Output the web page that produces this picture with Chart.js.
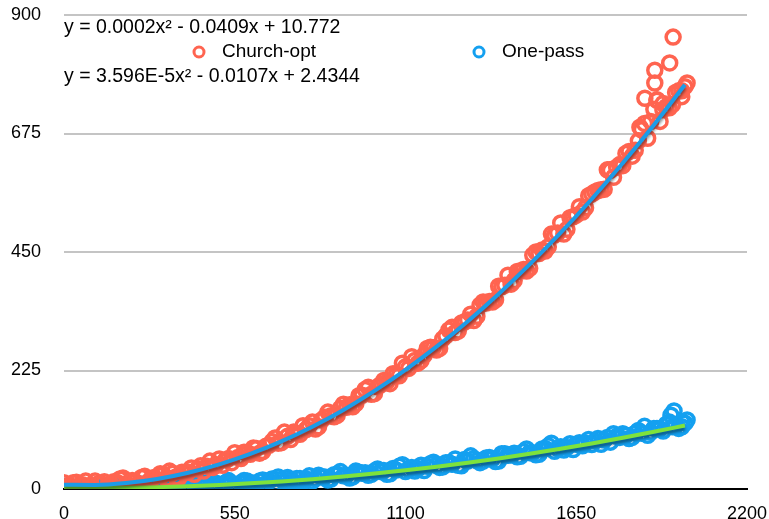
<!DOCTYPE html>
<html>
<head>
<meta charset="utf-8">
<script src="https://cdn.jsdelivr.net/npm/chart.js@4.4.1/dist/chart.umd.min.js"></script>
<style>
  html, body { margin: 0; padding: 0; background: #ffffff; }
  #wrap { width: 769px; height: 519px; position: relative; }
</style>
</head>
<body>
<div id="wrap"><canvas id="c" width="769" height="519"></canvas></div>
<script>
// ---- data ----
const sampleSizes = [0,10,20,30,40,50,60,70,80,90,100,110,120,130,140,150,160,170,180,190,200,210,220,230,240,250,260,270,280,290,300,310,320,330,340,350,360,370,380,390,400,410,420,430,440,450,460,470,480,490,500,510,520,530,540,550,560,570,580,590,600,610,620,630,640,650,660,670,680,690,700,710,720,730,740,750,760,770,780,790,800,810,820,830,840,850,860,870,880,890,900,910,920,930,940,950,960,970,980,990,1000,1010,1020,1030,1040,1050,1060,1070,1080,1090,1100,1110,1120,1130,1140,1150,1160,1170,1180,1190,1200,1210,1220,1230,1240,1250,1260,1270,1280,1290,1300,1310,1320,1330,1340,1350,1360,1370,1380,1390,1400,1410,1420,1430,1440,1450,1460,1470,1480,1490,1500,1510,1520,1530,1540,1550,1560,1570,1580,1590,1600,1610,1620,1630,1640,1650,1660,1670,1680,1690,1700,1710,1720,1730,1740,1750,1760,1770,1780,1790,1800,1810,1820,1830,1840,1850,1860,1870,1880,1890,1900,1910,1920,1930,1940,1950,1960,1970,1980,1990,2000];

const churchOpt = [12,5,6,12,13,7,8,15,4,4,15,10,10,14,5,7,14,13,19,21,10,7,16,14,9,22,24,13,19,22,17,29,27,21,34,30,23,21,32,32,32,40,28,38,44,34,43,53,41,46,57,45,55,58,50,69,60,58,70,68,66,78,77,68,71,81,83,90,97,87,88,108,100,94,108,106,104,120,113,120,127,114,118,131,136,146,139,137,140,153,161,155,160,156,162,177,178,189,193,180,181,194,198,206,203,200,219,217,215,239,232,229,251,244,239,244,254,267,269,268,264,267,285,291,302,307,297,300,315,317,321,332,320,328,349,355,353,356,355,359,385,384,387,406,389,396,413,414,417,414,419,444,450,447,454,452,460,484,482,486,505,484,493,515,517,520,536,526,534,557,560,564,567,568,569,606,605,592,611,616,614,637,641,632,643,661,682,694,666,698,721,739,698,732,726,724,730,753,756,756,764];

const onePass = [5,4,1,1,4,5,0,2,3,6,6,0,1,3,4,7,2,1,5,4,0,5,3.5,1,7,9,2,3,5,5,8.5,8,2,1,7,5,5.5,10,2,7,9,4,8,13,4,9,12,5,8,11,5,9,12,16,11,6,6,12,16,15,12,11,9,15,17,10,15,19,11,23,18,14,22,18,14,20,20,14,19,25,15,20,26,23,23,17,19,27,28,33,25,26,21,23,34,32,30,31,26,28,34,38,33,35,28,29,39,36,43,46,33,37,41,34,39,45,35,43,48,51,45,41,42,50,50,47,57,45,44,56,53,63,58,54,50,53,59,60,57.5,52,53,67,67,64,65,68,61,62,71,76,69,69,65,66,76,77,82,87,71.5,77,80,74,79,86,75,85,88,82,87,94,84.5,91,96,85,93,98,89,105,100,98,105,102,96,98,106,111,106,119,102,108,115,115,114,110,123,127,118,120,115,118,125];

// extra scattered points near the top end
const churchOptExtraX = [1758,1855,1871,1903,1903,1910,1929,1951,1962,1990,2007];
const churchOptExtraY = [606,687,742,795,771,738,720,809,858,745,771];
const onePassExtraX = [1955,1965,1990,2007];
const onePassExtraY = [140,148,128,131];

// fitted trend lines
const trendX = [0,100,200,300,400,500,600,700,800,900,1000,1100,1200,1300,1400,1500,1600,1700,1800,1900,2000];
const churchTrend = [8,7.7,11.4,19.1,30.9,46.7,66.6,90.4,118.3,150.2,186.2,226.2,270.2,318.2,370.3,426.4,486.6,550.7,618.9,691.2,767.4];
const onePassTrend = [2,1.85,2.3,3.5,5.2,7.65,10.7,14.4,18.7,23.7,29.3,35.6,42.4,50,58.1,67,76.4,86.5,97.2,108.6,120.6];

const xTicks = [0,550,1100,1650,2200];
const yTicks = [0,225,450,675,900];

const seriesNames = ['Church-opt','One-pass'];
const equations = ['y = 0.0002x\u00B2 - 0.0409x + 10.772','y = 3.596E-5x\u00B2 - 0.0107x + 2.4344'];

// ---- styles ----
const RED = '#FF6450';
const BLUE = '#14A0F0';
const TREND_BLUE = '#1C9CE8';
const TREND_GREEN = '#7EE23C';
const FONT = '"Liberation Sans", Arial, Helvetica, sans-serif';

const pts = (xs, ys) => xs.map((x, i) => ({x: x, y: ys[i]}));

const churchPts = pts(sampleSizes, churchOpt).concat(pts(churchOptExtraX, churchOptExtraY));
const onePassPts = pts(sampleSizes, onePass).concat(pts(onePassExtraX, onePassExtraY));

const trendShadow = {
  id: 'trendShadow',
  beforeDatasetDraw(chart, args) {
    if (args.meta.type === 'line') {
      const ctx = chart.ctx;
      ctx.save();
      ctx.shadowColor = 'rgba(0,0,0,0.45)';
      ctx.shadowOffsetY = 3;
      ctx.shadowBlur = 3;
    }
  },
  afterDatasetDraw(chart, args) {
    if (args.meta.type === 'line') chart.ctx.restore();
  }
};

const overlay = {
  id: 'overlay',
  afterDraw(chart) {
    const ctx = chart.ctx;
    const area = chart.chartArea;
    ctx.save();
    ctx.fillStyle = '#000';
    ctx.font = '19.5px ' + FONT;
    ctx.textBaseline = 'middle';
    ctx.textAlign = 'left';
    ctx.fillText(equations[0], area.left, 28);
    ctx.fillText(equations[1], area.left, 77);
    // legend
    ctx.font = '19px ' + FONT;
    const items = [{c: RED, x: 199, t: seriesNames[0]}, {c: BLUE, x: 479, t: seriesNames[1]}];
    items.forEach(it => {
      ctx.beginPath();
      ctx.arc(it.x, 52, 5, 0, Math.PI * 2);
      ctx.lineWidth = 3;
      ctx.strokeStyle = it.c;
      ctx.fillStyle = '#fff';
      ctx.fill();
      ctx.stroke();
      ctx.fillStyle = '#000';
      ctx.fillText(it.t, it.x + 23, 52);
    });
    ctx.restore();
  }
};

new Chart(document.getElementById('c'), {
  type: 'scatter',
  data: {
    datasets: [
      {
        label: seriesNames[0] + ' trend', data: pts(trendX, churchTrend), type: 'line',
        borderColor: TREND_BLUE, borderWidth: 4, pointRadius: 0, fill: false,
        cubicInterpolationMode: 'monotone', order: 0
      },
      {
        label: seriesNames[1] + ' trend', data: pts(trendX, onePassTrend), type: 'line',
        borderColor: TREND_GREEN, borderWidth: 4, pointRadius: 0, fill: false,
        cubicInterpolationMode: 'monotone', order: 0
      },
      {
        label: seriesNames[0], data: churchPts, pointRadius: 7, borderWidth: 3.5,
        borderColor: RED, backgroundColor: 'rgba(255,255,255,0)', order: 1
      },
      {
        label: seriesNames[1], data: onePassPts, pointRadius: 7, borderWidth: 3.5,
        borderColor: BLUE, backgroundColor: 'rgba(255,255,255,0)', order: 2
      }
    ]
  },
  options: {
    responsive: false,
    animation: false,
    layout: { padding: { top: 15, right: 22, left: 0, bottom: 0 } },
    plugins: { legend: { display: false }, tooltip: { enabled: false } },
    scales: {
      x: {
        type: 'linear', min: 0, max: 2200,
        afterBuildTicks: s => { s.ticks = xTicks.map(v => ({value: v})); },
        afterFit: s => { s.height = 30; },
        grid: { display: false, drawTicks: true, tickLength: 14, tickColor: 'rgba(0,0,0,0)' },
        border: { display: true, color: '#000', width: 2 },
        ticks: { color: '#000', font: { size: 18, family: FONT }, padding: 0, maxRotation: 0,
                 callback: v => String(v) }
      },
      y: {
        type: 'linear', min: 0, max: 900,
        afterBuildTicks: s => { s.ticks = yTicks.map(v => ({value: v})); },
        afterFit: s => { s.width = 64; },
        grid: {
          drawTicks: true, tickLength: 23, tickColor: 'rgba(0,0,0,0)', lineWidth: 2,
          color: c => (c.tick && c.tick.value === 0) ? 'rgba(0,0,0,0)' : '#c4c4c4'
        },
        border: { display: false },
        ticks: { color: '#000', font: { size: 18, family: FONT }, padding: 0,
                 callback: v => String(v) }
      }
    }
  },
  plugins: [trendShadow, overlay]
});
</script>
</body>
</html>
